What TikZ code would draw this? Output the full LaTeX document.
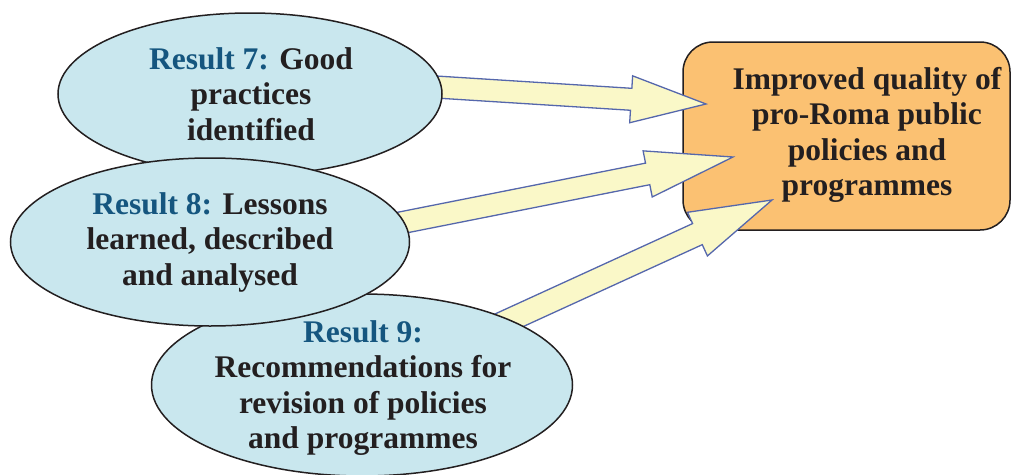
\documentclass[tikz,border=0pt]{standalone}
\usepackage{fontspec}
\setmainfont{Liberation Serif}
\usetikzlibrary{shapes.geometric,calc}
\definecolor{ellfill}{HTML}{C9E7EE}
\definecolor{boxfill}{HTML}{FBC172}
\definecolor{arrfill}{HTML}{FAF8C8}
\definecolor{arrline}{HTML}{5567AC}
\definecolor{restxt}{HTML}{15567F}
\definecolor{darktxt}{HTML}{231F20}
\tikzset{
  ell/.style={ellipse, draw=darktxt, line width=1.5pt, fill=ellfill, inner sep=0pt},
  goalbox/.style={rectangle, rounded corners=30pt, draw=darktxt, line width=1.5pt, fill=boxfill, inner sep=0pt},
  lbl/.style={align=center, text=darktxt, font=\fontsize{31.5}{35.5}\selectfont\bfseries, inner sep=0pt},
  fatarrow/.style={draw=arrline, fill=arrfill, line width=1.3pt, line join=miter}
}
\newcommand{\res}[1]{\textcolor{restxt}{#1}}
\newcommand{\fatarrow}[5]{%
  \coordinate (#1-h) at ($(#2)!#3!(#1)$);
  \draw[fatarrow] ($(#1)!#4!90:(#2)$) -- ($(#1-h)!#4!90:(#2)$) -- ($(#1-h)!#5!90:(#2)$)
    -- (#2) -- ($(#1-h)!#5!-90:(#2)$) -- ($(#1-h)!#4!-90:(#2)$) -- ($(#1)!#4!-90:(#2)$) -- cycle;
}
\begin{document}
\begin{tikzpicture}[x=1pt,y=-1pt]
\useasboundingbox (0,0) rectangle (1011,474);
% goal box
\node[goalbox, minimum width=327pt, minimum height=188pt] (goal) at (846.5,136) {};
\node[lbl] (goaltxt) at (867,135) {Improved quality of\\pro-Roma public\\policies and\\programmes};
% arrow coordinates
\coordinate (a7) at (420,86);
\coordinate (b7) at (706,104);
\coordinate (a8) at (390,225);
\coordinate (b8) at (733,157);
\coordinate (a9) at (490,329);
\coordinate (b9) at (772,200);
\fatarrow{a7}{b7}{75pt}{11pt}{23.5pt}
\fatarrow{a8}{b8}{87pt}{11pt}{23.5pt}
\fatarrow{a9}{b9}{82pt}{11.6pt}{24pt}
% ellipses
\node[ell, minimum width=384pt, minimum height=162pt] (e7) at (250,94) {};
\node[lbl] (t7) at (251,94) {\res{Result 7:} Good\\practices\\identified};
\node[ell, minimum width=421pt, minimum height=182pt] (e9) at (362,385) {};
\node[lbl] (t9) at (363,388) {\res{Result 9:}\\Recommendations for\\revision of policies\\and programmes};
\node[ell, minimum width=399pt, minimum height=168pt] (e8) at (210,242) {};
\node[lbl] (t8) at (210,242) {\res{Result 8:} Lessons\\learned, described\\and analysed};
\end{tikzpicture}
\end{document}
